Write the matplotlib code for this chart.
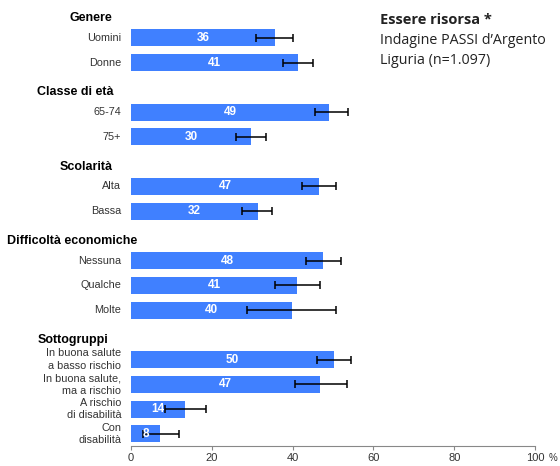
import numpy as np
import matplotlib
matplotlib.use("Agg")
import matplotlib.pyplot as plt

# data
labels = ["Uomini", "Donne", "65-74", "75+", "Alta", "Bassa",
          "Nessuna", "Qualche", "Molte",
          "In buona salute\na basso rischio", "In buona salute,\nma a rischio",
          "A rischio\ndi disabilità", "Con\ndisabilità"]
values = [35.6, 41.3, 49.0, 29.7, 46.5, 31.4, 47.5, 41.1, 39.9, 50.2, 46.8, 13.4, 7.2]
ci_low = [31.0, 37.6, 45.5, 26.0, 42.3, 27.5, 43.3, 35.6, 28.7, 46.0, 40.6, 8.4, 3.0]
ci_high = [40.0, 45.0, 53.7, 33.4, 50.7, 35.0, 52.0, 46.8, 50.7, 54.5, 53.5, 18.6, 12.0]
value_text = ["36", "41", "49", "30", "47", "32", "48", "41", "40", "50", "47", "14", "8"]
groups = ["Genere", "Classe di età", "Scolarità", "Difficoltà economiche", "Sottogruppi"]
group_sizes = [2, 2, 2, 3, 4]
xticks = [0, 20, 40, 60, 80, 100]

BAR = "#4080ff"
GREY = "#333333"

# slot positions: one empty slot before every group except the first
ypos, head_y = [], []
y = 0
for gi, n in enumerate(group_sizes):
    if gi > 0:
        y += 1
    head_y.append(y - 0.8)
    for _ in range(n):
        ypos.append(y)
        y += 1
ypos = np.array(ypos, dtype=float)

W, H = 5.6, 4.66
fig = plt.figure(figsize=(W, H), dpi=100)
# axes area in pixels: x 131..535, y 10..446 (from top)
ax = fig.add_axes([131 / 560, 1 - 446 / 466, 404 / 560, 436 / 466])

vals = np.array(values)
err = [vals - np.array(ci_low), np.array(ci_high) - vals]
ax.barh(ypos, vals, height=0.69, color=BAR, zorder=2)
ax.errorbar(vals, ypos, xerr=err, fmt="none", ecolor="black",
            elinewidth=1.1, capsize=3, capthick=1.1, zorder=3)

for yy, v, t in zip(ypos, vals, value_text):
    ax.text(v / 2, yy, t, ha="center", va="center", color="white",
            fontsize=8.5, fontweight="bold", family="Liberation Sans", zorder=4)

ax.set_xlim(0, 100)
ax.set_ylim(16.49, -1.13)
ax.set_yticks([])
for s in ["top", "right", "left"]:
    ax.spines[s].set_visible(False)
ax.spines["bottom"].set_color("#888888")
ax.spines["bottom"].set_linewidth(0.8)
ax.set_xticks(xticks)
ax.set_xticklabels([str(t) for t in xticks], fontsize=8, color=GREY,
                   family="Liberation Sans")
ax.tick_params(axis="x", length=3, width=0.8, color="#888888", pad=2)
ax.text(549 / 560, 3 / 466, "%", transform=fig.transFigure, fontsize=7,
        color=GREY, family="Liberation Sans", ha="left", va="bottom")

# category labels, right aligned
for yy, lab in zip(ypos, labels):
    ax.text(-2.4, yy, lab, ha="right", va="center", fontsize=7.8, color=GREY,
            family="Liberation Sans", linespacing=1.3)

# group headers
head_x = [69, 37, 60, 7, 38]
for hx, hy, g in zip(head_x, head_y, groups):
    yfig = ax.transData.transform((0, hy))[1]
    fig.text(hx / 560, yfig / (H * 100), g, ha="left", va="center", fontsize=9,
             fontweight="bold", color="black", family="Liberation Sans")

# title block
fig.text(380 / 560, 1 - 20 / 466, "Essere risorsa *", fontsize=10.5,
         fontweight="bold", color="#222222", family="Open Sans", va="center")
fig.text(380 / 560, 1 - 40 / 466, "Indagine PASSI d\u2019Argento", fontsize=10.3,
         color="#222222", family="Open Sans", va="center")
fig.text(380 / 560, 1 - 61 / 466, "Liguria (n=1.097)", fontsize=10.3,
         color="#222222", family="Open Sans", va="center")

fig.savefig("out.png", dpi=100)
